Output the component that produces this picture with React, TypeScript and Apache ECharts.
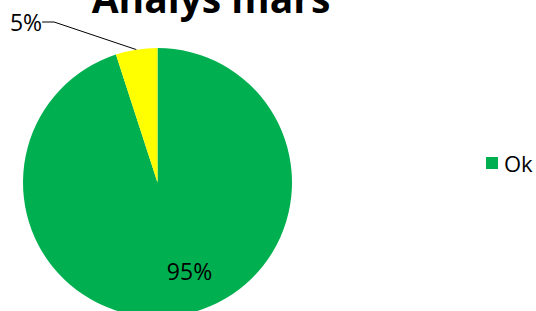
import React, { useEffect, useRef } from "react";
import * as echarts from "echarts";

const titleText = "Analys mars";
const categories = ["Ok", ""];
const values = [95, 5];
const colors = ["#00B050", "#FFFF00"];
const legendItems = ["Ok"];

export default function App() {
  const ref = useRef<HTMLDivElement>(null);
  useEffect(() => {
    if (!ref.current) return;
    const chart = echarts.init(ref.current, null, { renderer: "svg" });
    const font = "'Open Sans', 'Noto Sans', sans-serif";
    chart.setOption({
      animation: false,
      backgroundColor: "#ffffff",
      title: {
        text: titleText,
        left: 206,
        textAlign: "center",
        top: -27,
        textStyle: { fontFamily: font, fontSize: 39, fontWeight: "bold", color: "#000" },
      },
      legend: {
        data: legendItems,
        orient: "vertical",
        left: 481,
        top: 147,
        icon: "rect",
        itemWidth: 12,
        itemHeight: 12,
        itemGap: 6,
        textStyle: { fontFamily: font, fontSize: 22, color: "#000", padding: [0, 0, 0, 1] },
      },
      series: [
        {
          type: "pie",
          center: [157.5, 182.5],
          radius: 134.5,
          startAngle: 90,
          clockwise: true,
          data: categories.map((c, i) => ({
            name: c,
            value: values[i],
            itemStyle: { color: colors[i] },
            label:
              i === 0
                ? { position: "inside" }
                : { position: "outside" },
          })),
          label: {
            formatter: "{d}%",
            fontFamily: font,
            fontSize: 23,
            color: "#000",
          },
          labelLine: {
            show: true,
            length: 15,
            length2: 12,
            lineStyle: { color: "#000", width: 1 },
          },
          labelLayout: (params: any) =>
            params.dataIndex === 0
              ? { dx: 21, dy: 19 }
              : { x: 26, y: 22, align: "center", verticalAlign: "middle" },
          emphasis: { disabled: true },
        },
      ],
    });
    return () => chart.dispose();
  }, []);
  return (
    <div
      ref={ref}
      style={{ position: "fixed", left: 0, top: 0, width: 536, height: 311 }}
    />
  );
}
